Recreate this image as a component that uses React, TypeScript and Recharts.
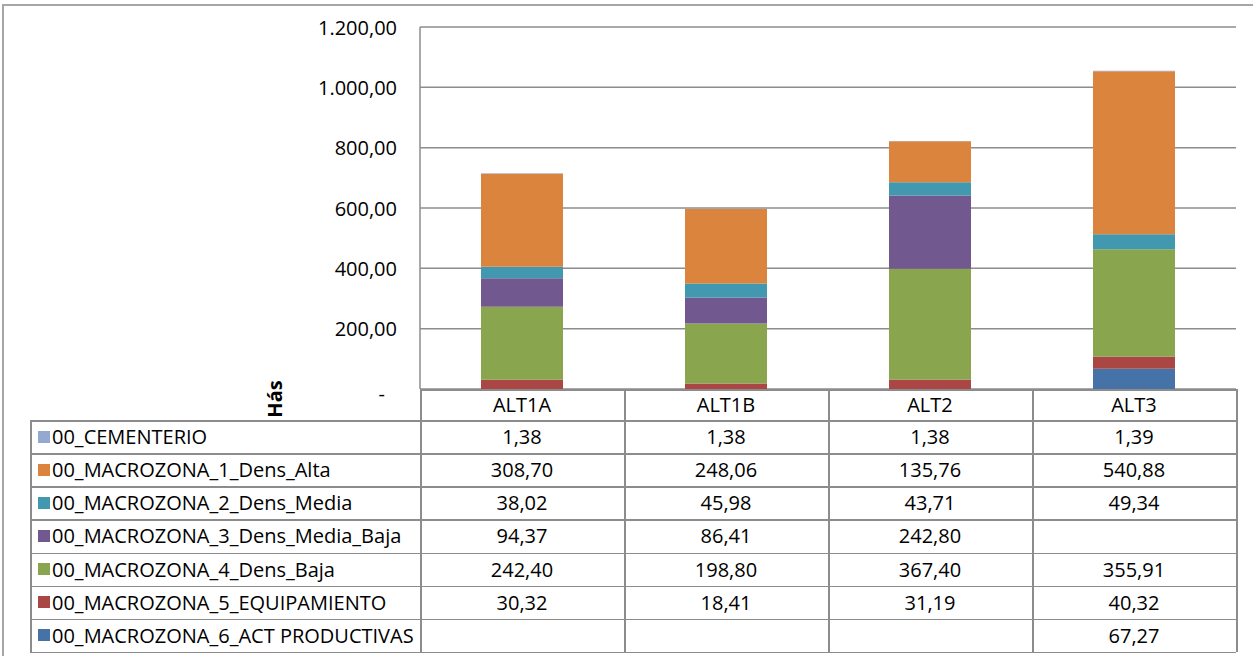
import React from 'react';
import { BarChart, Bar, XAxis, YAxis, CartesianGrid } from 'recharts';

const categories = ['ALT1A', 'ALT1B', 'ALT2', 'ALT3'];
const actProductivas: (number | null)[] = [null, null, null, 67.27];
const equipamiento: (number | null)[] = [30.32, 18.41, 31.19, 40.32];
const densBaja: (number | null)[] = [242.4, 198.8, 367.4, 355.91];
const densMediaBaja: (number | null)[] = [94.37, 86.41, 242.8, null];
const densMedia: (number | null)[] = [38.02, 45.98, 43.71, 49.34];
const densAlta: (number | null)[] = [308.7, 248.06, 135.76, 540.88];
const cementerio: (number | null)[] = [1.38, 1.38, 1.38, 1.39];
const yTicks = [0, 200, 400, 600, 800, 1000, 1200];

// stacking order bottom -> top
const series = [
  { key: 'act', name: '00_MACROZONA_6_ACT PRODUCTIVAS', values: actProductivas, color: '#4572A7' },
  { key: 'equip', name: '00_MACROZONA_5_EQUIPAMIENTO', values: equipamiento, color: '#AA4643' },
  { key: 'baja', name: '00_MACROZONA_4_Dens_Baja', values: densBaja, color: '#89A54E' },
  { key: 'mediaBaja', name: '00_MACROZONA_3_Dens_Media_Baja', values: densMediaBaja, color: '#71588F' },
  { key: 'media', name: '00_MACROZONA_2_Dens_Media', values: densMedia, color: '#4198AF' },
  { key: 'alta', name: '00_MACROZONA_1_Dens_Alta', values: densAlta, color: '#DB843D' },
  { key: 'cem', name: '00_CEMENTERIO', values: cementerio, color: '#93A9CF' },
];

const data = categories.map((c, i) => {
  const row: Record<string, any> = { category: c };
  series.forEach((s) => {
    row[s.key] = s.values[i];
  });
  return row;
});

const W = 1253;
const H = 656;
const PLOT_LEFT = 420;
const PLOT_RIGHT = 1236;
const PLOT_TOP = 27;
const PLOT_BOTTOM = 389;
const TABLE_LEFT = 30;
const HEADER_H = 31;
const ROW_H = 33.14;
const FONT = "'Open Sans', 'Noto Sans', sans-serif";
const LINE = '#8c8c8c';
const FS = 20;

const fmt = (v: number) => {
  if (v === 0) return '-';
  const [i, d] = v.toFixed(2).split('.');
  return i.replace(/\B(?=(\d{3})+(?!\d))/g, '.') + ',' + d;
};

const YTick = (props: any) => {
  const { x, y, payload } = props;
  const v = payload.value as number;
  return (
    <text
      x={v === 0 ? x - 12 : x}
      y={v === 0 ? y + 4 : y}
      textAnchor="end"
      dominantBaseline="central"
      fontSize={FS}
      fontFamily={FONT}
      fill="#000"
    >
      {fmt(v)}
    </text>
  );
};

export default function App() {
  const colW = (PLOT_RIGHT - PLOT_LEFT) / categories.length;
  const tableRows = [...series].reverse();
  const dataTop = PLOT_BOTTOM + HEADER_H;
  const tableBottom = dataTop + ROW_H * tableRows.length;

  const lines: React.ReactNode[] = [];
  lines.push(
    <div key="ht" style={{ position: 'absolute', left: PLOT_LEFT, top: PLOT_BOTTOM, width: PLOT_RIGHT - PLOT_LEFT, height: 1.5, background: LINE }} />
  );
  for (let r = 0; r <= tableRows.length; r++) {
    lines.push(
      <div key={'h' + r} style={{ position: 'absolute', left: TABLE_LEFT, top: dataTop + r * ROW_H, width: PLOT_RIGHT - TABLE_LEFT, height: 1.5, background: LINE }} />
    );
  }
  lines.push(
    <div key="vl" style={{ position: 'absolute', left: TABLE_LEFT, top: dataTop, width: 1.5, height: tableBottom - dataTop, background: LINE }} />
  );
  for (let c = 0; c <= categories.length; c++) {
    lines.push(
      <div key={'v' + c} style={{ position: 'absolute', left: PLOT_LEFT + c * colW, top: PLOT_BOTTOM, width: 1.5, height: tableBottom - PLOT_BOTTOM, background: LINE }} />
    );
  }

  return (
    <div style={{ position: 'absolute', left: 0, top: 0, width: W, height: H, overflow: 'hidden', background: '#fff', fontFamily: FONT }}>
      <div style={{ position: 'absolute', left: 2, top: 4, width: 1400, height: 800, borderLeft: '2px solid #a6a6a6', borderTop: '2px solid #a6a6a6' }} />
      <div style={{ position: 'absolute', left: 0, top: 0 }}>
        <BarChart
          width={W}
          height={H}
          data={data}
          margin={{ top: PLOT_TOP, right: W - PLOT_RIGHT, bottom: H - PLOT_BOTTOM, left: PLOT_LEFT - 60 }}
          barSize={82}
        >
          <CartesianGrid vertical={false} stroke={LINE} strokeWidth={1.5} />
          <XAxis dataKey="category" hide />
          <YAxis
            width={60}
            domain={[0, 1200]}
            ticks={yTicks}
            interval={0}
            tickLine={false}
            tickSize={21}
            tickMargin={2}
            axisLine={{ stroke: LINE, strokeWidth: 1.5 }}
            tick={<YTick />}
          />
          {series.map((s) => (
            <Bar key={s.key} dataKey={s.key} name={s.name} stackId="a" fill={s.color} isAnimationActive={false} />
          ))}
        </BarChart>
      </div>
      {lines}
      {categories.map((c, i) => (
        <div
          key={'hdr' + c}
          style={{ position: 'absolute', left: PLOT_LEFT + i * colW, top: PLOT_BOTTOM, width: colW, height: HEADER_H, display: 'flex', alignItems: 'center', justifyContent: 'center', fontSize: FS, color: '#000' }}
        >
          {c}
        </div>
      ))}
      {tableRows.map((s, r) => (
        <React.Fragment key={'row' + s.key}>
          <div
            style={{ position: 'absolute', left: TABLE_LEFT + 3, top: dataTop + r * ROW_H, width: PLOT_LEFT - TABLE_LEFT - 3, height: ROW_H, display: 'flex', alignItems: 'center', fontSize: FS, color: '#000', whiteSpace: 'nowrap' }}
          >
            <span style={{ display: 'inline-block', width: 12, height: 12, background: s.color, marginRight: 2, marginLeft: 5 }} />
            <span>{s.name}</span>
          </div>
          {categories.map((c, i) => (
            <div
              key={s.key + c}
              style={{ position: 'absolute', left: PLOT_LEFT + i * colW, top: dataTop + r * ROW_H, width: colW, height: ROW_H, display: 'flex', alignItems: 'center', justifyContent: 'center', fontSize: FS, color: '#000' }}
            >
              {s.values[i] == null ? '' : fmt(s.values[i] as number)}
            </div>
          ))}
        </React.Fragment>
      ))}
      <div
        style={{ position: 'absolute', left: 274, top: 399, transform: 'translate(-50%, -50%) rotate(-90deg)', fontWeight: 'bold', fontSize: FS, color: '#000', whiteSpace: 'nowrap' }}
      >
        Hás
      </div>
    </div>
  );
}
